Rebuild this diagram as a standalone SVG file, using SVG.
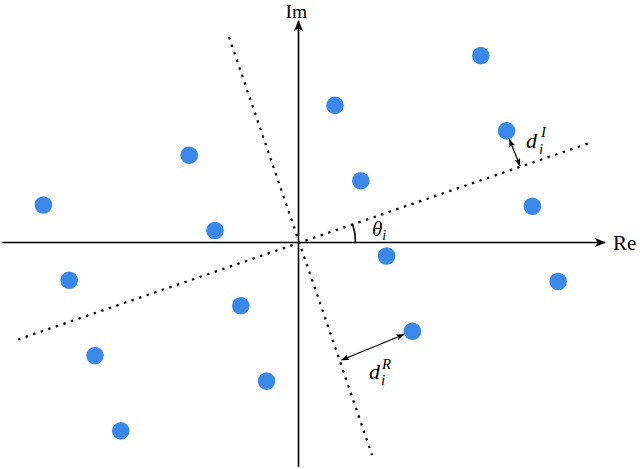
<svg xmlns="http://www.w3.org/2000/svg" width="640" height="469" viewBox="0 0 640 469">
<style>
.axis{stroke:#000;stroke-width:1.6;fill:none}
.dotted{stroke:#000;stroke-width:2.2;fill:none;stroke-dasharray:2.4 5.6}
.pt{fill:#3a88e8}
.dist{stroke:#000;stroke-width:1.2;fill:none;marker-start:url(#ah);marker-end:url(#ah)}
.lbl{font-family:"Liberation Serif","DejaVu Serif",serif;fill:#000}
.it{font-style:italic}
</style>
<defs>
<marker id="axh" viewBox="0 0 11 9" refX="10" refY="4.5" markerWidth="11" markerHeight="9" markerUnits="userSpaceOnUse" orient="auto">
<path d="M0,0 L11,4.5 L0,9 L2.5,4.5 Z" fill="#000"/>
</marker>
<marker id="ah" viewBox="0 0 8 6" refX="7.5" refY="3" markerWidth="8" markerHeight="6" markerUnits="userSpaceOnUse" orient="auto-start-reverse">
<path d="M0,0 L8,3 L0,6 L1.5,3 Z" fill="#000"/>
</marker>
</defs>
<g id="connectors">
<line class="axis" x1="2" y1="242.5" x2="605" y2="242.5" marker-end="url(#axh)"/>
<line class="axis" x1="298.5" y1="467" x2="298.5" y2="21" marker-end="url(#axh)"/>
<line class="dotted" x1="18" y1="339.5" x2="588" y2="143.5"/>
<line class="dotted" x1="229" y1="37" x2="372" y2="455"/>
<path class="axis" d="M355.5,242.5 A57,57 0 0 0 352.6,224"/>
<line class="dist" x1="509.5" y1="139.5" x2="520" y2="166"/>
<line class="dist" x1="404" y1="334.5" x2="341.5" y2="360"/>
</g>
<g id="points">
<circle class="pt" cx="43.4" cy="205" r="8.8"/>
<circle class="pt" cx="69.2" cy="280.3" r="8.8"/>
<circle class="pt" cx="95" cy="355.6" r="8.8"/>
<circle class="pt" cx="120.8" cy="430.9" r="8.8"/>
<circle class="pt" cx="189.2" cy="155.2" r="8.8"/>
<circle class="pt" cx="215" cy="230.5" r="8.8"/>
<circle class="pt" cx="240.8" cy="305.8" r="8.8"/>
<circle class="pt" cx="266.6" cy="381.1" r="8.8"/>
<circle class="pt" cx="335" cy="105.4" r="8.8"/>
<circle class="pt" cx="360.8" cy="180.7" r="8.8"/>
<circle class="pt" cx="386.6" cy="256" r="8.8"/>
<circle class="pt" cx="412.4" cy="331.3" r="8.8"/>
<circle class="pt" cx="480.8" cy="55.6" r="8.8"/>
<circle class="pt" cx="506.6" cy="130.9" r="8.8"/>
<circle class="pt" cx="532.4" cy="206.2" r="8.8"/>
<circle class="pt" cx="558.2" cy="281.5" r="8.8"/>
</g>
<g id="labels">
<text class="lbl" x="285.5" y="18" font-size="19.5">Im</text>
<text class="lbl" x="613" y="250" font-size="21">Re</text>
<text class="lbl it" x="372" y="236" font-size="21">θ<tspan font-size="14" dy="4">i</tspan></text>
<text class="lbl it" x="526" y="148" font-size="22">d</text>
<text class="lbl it" x="539" y="154" font-size="15">i</text>
<text class="lbl it" x="541" y="137" font-size="15">I</text>
<text class="lbl it" x="369" y="379" font-size="22">d</text>
<text class="lbl it" x="381" y="385" font-size="15">i</text>
<text class="lbl it" x="382" y="369" font-size="15">R</text>
</g>
</svg>
